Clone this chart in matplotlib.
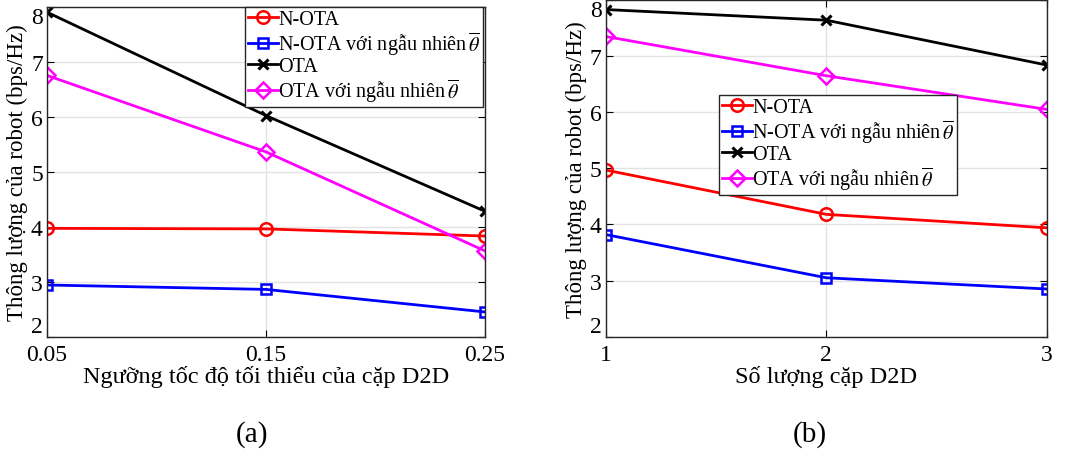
import matplotlib
matplotlib.use("Agg")
import matplotlib.pyplot as plt
from matplotlib.legend_handler import HandlerLine2D

plt.rcParams['font.family'] = ['Liberation Serif', 'DejaVu Serif']
plt.rcParams['mathtext.fontset'] = 'stix'

# Panel (a): minimum D2D rate threshold
thresholds = [0.05, 0.15, 0.25]
threshold_labels = ['0.05', '0.15', '0.25']
a_notas = [3.97, 3.96, 3.83]
a_notas_rand = [2.94, 2.86, 2.45]
a_ota = [7.90, 6.02, 4.28]
a_ota_rand = [6.75, 5.36, 3.56]

# Panel (b): number of D2D pairs
pairs = [1, 2, 3]
pair_labels = ['1', '2', '3']
b_notas = [4.97, 4.18, 3.94]
b_notas_rand = [3.82, 3.05, 2.85]
b_ota = [7.83, 7.64, 6.84]
b_ota_rand = [7.35, 6.65, 6.05]

y_ticks = [2, 3, 4, 5, 6, 7, 8]
series_names = ['N-OTA', r'N-OTA với ngẫu nhiên$\,\overline{\theta}$', 'OTA',
                r'OTA với ngẫu nhiên$\,\overline{\theta}$']
styles = [dict(color='#ff0000', marker='o', mfc='none', ms=9),
          dict(color='#0000ff', marker='s', mfc='none', ms=7),
          dict(color='#000000', marker='x', ms=7, mew=2.2),
          dict(color='#ff00ff', marker='D', mfc='none', ms=8)]


class EndMarkerHandler(HandlerLine2D):
    """Legend handle with the marker placed at the right end of the line."""

    def get_xdata(self, legend, xdescent, ydescent, width, height, fontsize):
        xdata = [-xdescent, -xdescent + width]
        xmark = [-xdescent + width - 0.18 * fontsize]
        return xdata, xmark


fig = plt.figure(figsize=(10.7, 4.52), dpi=100)
W, H = 1070, 452
ax_a = fig.add_axes([47 / W, 1 - 337.7 / H, (485 - 47) / W, (337.7 - 7.7) / H])
ax_b = fig.add_axes([605.7 / W, 1 - 337.7 / H, (1047 - 605.7) / W, (337.7 - 1) / H])


def draw(ax, x, series, xt, xtl, xlabel, legend_anchor):
    lines = []
    for ys, name, st in zip(series, series_names, styles):
        st = dict(st)
        mew = st.pop('mew', 1.8)
        ln, = ax.plot(x, ys, lw=2.0, mew=mew, label=name, **st)
        lines.append(ln)
    ax.set_xlim(x[0], x[-1])
    ax.set_ylim(2, 8)
    ax.set_xticks(xt)
    ax.set_xticklabels(xtl)
    ax.set_yticks(y_ticks)
    ax.grid(True, color='#e3e3e3', lw=1.0)
    ax.set_axisbelow(True)
    ax.tick_params(direction='in', top=True, right=True, labelsize=17,
                   length=5, width=0.8)
    ax.tick_params(axis='x', pad=5)
    ax.tick_params(axis='y', pad=3)
    # keep the end labels of the value axis inside the frame
    ylabels = ax.get_yticklabels()
    ylabels[0].set_va('bottom')
    ylabels[-1].set_va('top')
    for sp in ax.spines.values():
        sp.set_linewidth(1.0)
        sp.set_color('#262626')
    ax.set_ylabel('Thông lượng của robot (bps/Hz)', fontsize=16.5, labelpad=2)
    ax.set_xlabel(xlabel, fontsize=17.5, labelpad=0)
    leg = ax.legend(handles=lines, loc='upper left', bbox_to_anchor=legend_anchor,
                    fontsize=14.5, frameon=True, fancybox=False, framealpha=1,
                    edgecolor='#262626', handlelength=1.5, handletextpad=0.0,
                    borderpad=0.15, labelspacing=0.0, borderaxespad=0,
                    handler_map={ln: EndMarkerHandler(numpoints=1) for ln in lines})
    leg.get_frame().set_linewidth(1.0)


draw(ax_a, thresholds, [a_notas, a_notas_rand, a_ota, a_ota_rand],
     thresholds, threshold_labels, 'Ngưỡng tốc độ tối thiểu của cặp D2D',
     ((245 - 47) / (485 - 47), 1.0))
draw(ax_b, pairs, [b_notas, b_notas_rand, b_ota, b_ota_rand],
     pairs, pair_labels, 'Số lượng cặp D2D',
     ((719 - 605.7) / (1047 - 605.7), (337.7 - 96) / (337.7 - 1)))

fig.text(252 / W, 1 - 435 / H, '(a)', fontsize=21, ha='center', va='center')
fig.text(810 / W, 1 - 435 / H, '(b)', fontsize=21, ha='center', va='center')

fig.savefig('out.png', dpi=100)
